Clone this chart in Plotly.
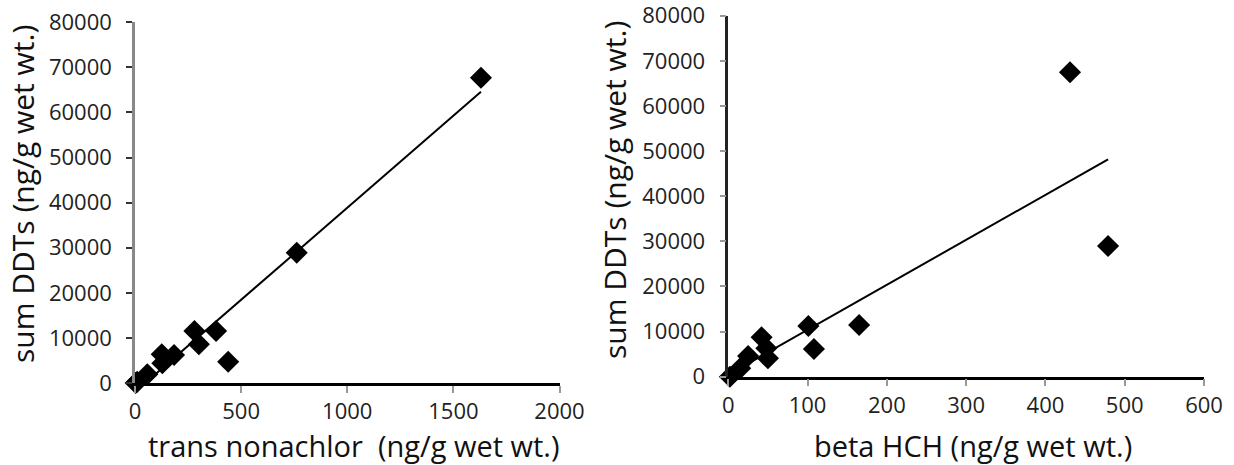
import numpy as np
import plotly.graph_objects as go

# Left panel: trans nonachlor vs sum DDTs (ng/g wet wt.)
trans_nonachlor = [1630, 762, 280, 382, 301, 439, 126, 184, 129, 58, 3, 10]
ddt_left = [67700, 28900, 11530, 11530, 8580, 4720, 6360, 6210, 4370, 1930, 0, 250]

# Right panel: beta HCH vs sum DDTs (ng/g wet wt.)
beta_hch = [431, 479, 101, 165, 42, 25, 48, 108, 50, 15, 2]
ddt_right = [67460, 28960, 11240, 11460, 8730, 4590, 6290, 6140, 4080, 1860, 0]

left_xticks = [0, 500, 1000, 1500, 2000]
right_xticks = [0, 100, 200, 300, 400, 500, 600]
y_ticks = [0, 10000, 20000, 30000, 40000, 50000, 60000, 70000, 80000]

FONT = "Open Sans"
W, H = 1234, 465


def trend(x, y):
    """Least-squares straight line spanning the x range of the data."""
    slope, intercept = np.polyfit(x, y, 1)
    xs = np.array([min(x), max(x)])
    return xs, slope * xs + intercept


fig = go.Figure()

for xs, ys, xa, ya in [(trans_nonachlor, ddt_left, "x", "y"),
                       (beta_hch, ddt_right, "x2", "y2")]:
    tx, ty = trend(xs, ys)
    fig.add_trace(go.Scatter(x=tx, y=ty, mode="lines",
                             line=dict(color="black", width=2),
                             xaxis=xa, yaxis=ya, hoverinfo="skip",
                             cliponaxis=False))
    fig.add_trace(go.Scatter(x=xs, y=ys, mode="markers",
                             marker=dict(symbol="diamond", size=17, color="black",
                                         line=dict(width=0)),
                             xaxis=xa, yaxis=ya, cliponaxis=False))


def px_x(p):
    return p / W


def px_y(p):
    return 1 - p / H


tick_font = dict(family=FONT, size=22, color="#222")

common_x = dict(showgrid=False, zeroline=False, showline=True, linecolor="black",
                linewidth=2.5, ticks="outside", ticklen=7, tickwidth=2,
                tickcolor="#999", tickfont=tick_font, ticklabelstandoff=0,
                ticklabeloverflow="allow", automargin=False, fixedrange=True)
common_y = dict(showgrid=False, zeroline=False, showline=True, linewidth=2.5,
                ticks="outside", ticklen=6, tickwidth=2, tickcolor="#333",
                tickfont=tick_font, tickvals=y_ticks, ticklabelstandoff=10,
                ticktext=[str(v) for v in y_ticks], range=[0, 80000],
                ticklabeloverflow="allow", automargin=False, fixedrange=True)

fig.update_layout(
    width=W, height=H,
    margin=dict(l=0, r=0, t=0, b=0, pad=0, autoexpand=False),
    paper_bgcolor="white", plot_bgcolor="white",
    showlegend=False,
    xaxis=dict(common_x, domain=[px_x(135), px_x(559.5)], range=[0, 2000],
               tickvals=left_xticks, ticktext=[str(v) for v in left_xticks],
               anchor="y"),
    yaxis=dict(common_y, domain=[px_y(383), px_y(22.3)], linecolor="#888",
               anchor="x"),
    xaxis2=dict(common_x, domain=[px_x(728.3), px_x(1204)], range=[0, 600],
                tickvals=right_xticks, ticktext=[str(v) for v in right_xticks],
                anchor="y2"),
    yaxis2=dict(common_y, domain=[px_y(376.7), px_y(15.7)], linecolor="#222",
                tickcolor="#999", anchor="x2"),
)

x_title_font = dict(family=FONT, size=29, color="#111")
x_titles = [
    dict(text="trans nonachlor  (ng/g wet wt.)", x=px_x(354)),
    dict(text="beta HCH (ng/g wet wt.)", x=px_x(973)),
]
for a in x_titles:
    fig.add_annotation(xref="paper", yref="paper", showarrow=False, y=px_y(445),
                       xanchor="center", yanchor="middle", font=x_title_font, **a)

y_title_font = dict(family=FONT, size=30, color="#111")
y_titles = [
    dict(text="sum DDTs (ng/g wet wt.)", x=px_x(22), y=px_y(194)),
    dict(text="sum DDTs (ng/g wet wt.)", x=px_x(614), y=px_y(190)),
]
for a in y_titles:
    fig.add_annotation(xref="paper", yref="paper", showarrow=False, textangle=-90,
                       xanchor="center", yanchor="middle", font=y_title_font, **a)

fig.write_html("out.html")
